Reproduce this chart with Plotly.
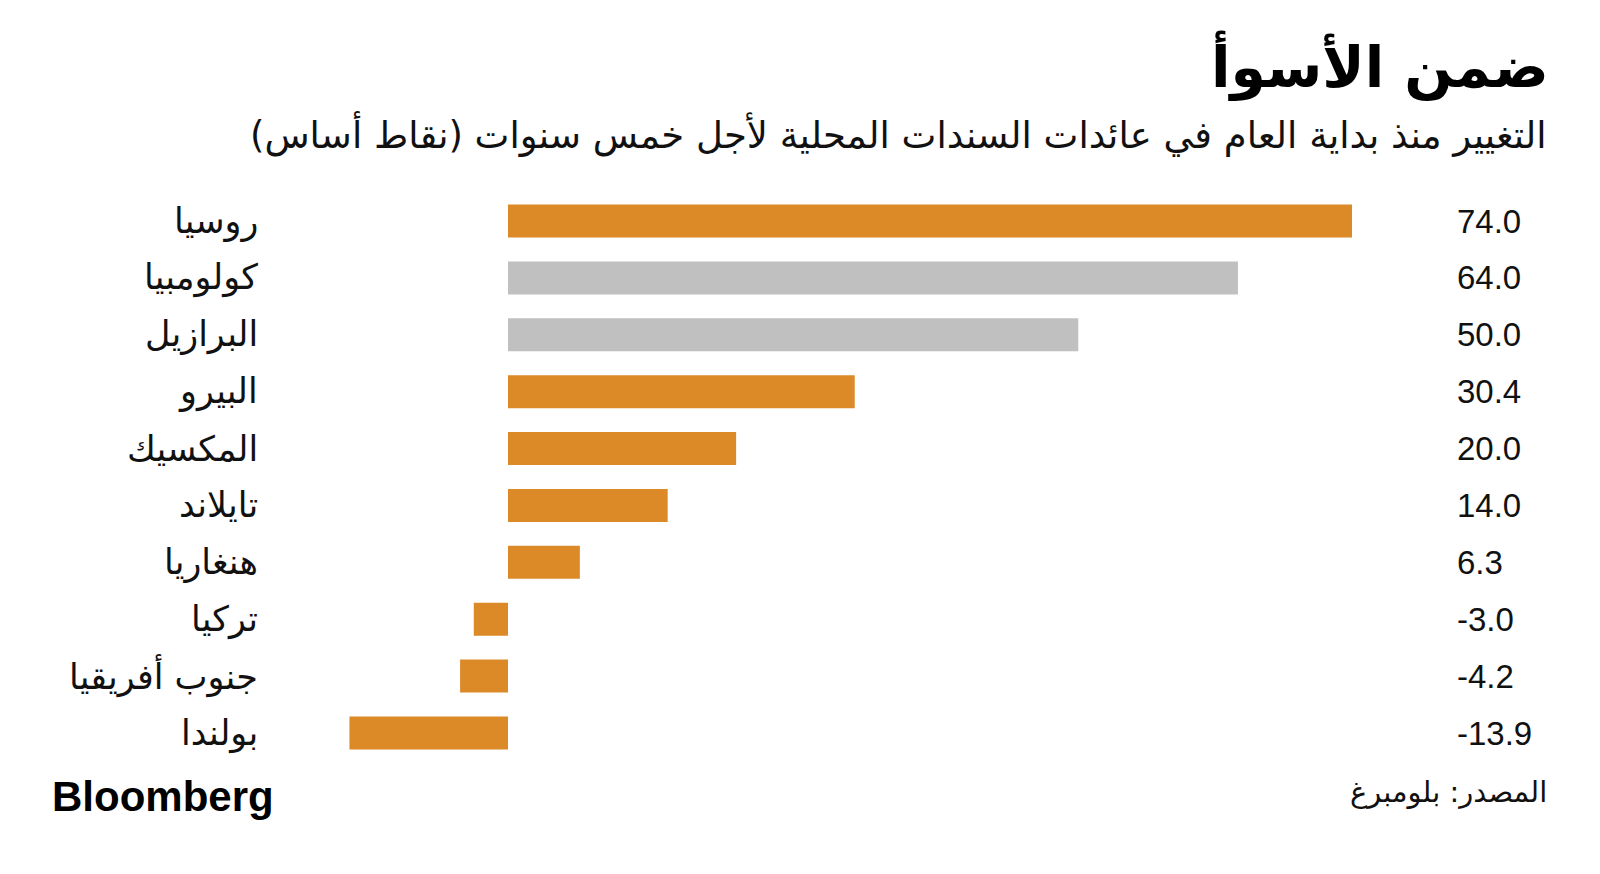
import plotly.graph_objects as go

countries = ["روسيا", "كولومبيا", "البرازيل", "البيرو", "المكسيك", "تايلاند", "هنغاريا", "تركيا", "جنوب أفريقيا", "بولندا"]
values = [74.0, 64.0, 50.0, 30.4, 20.0, 14.0, 6.3, -3.0, -4.2, -13.9]
highlight = [True, False, False, True, True, True, True, True, True, True]

ORANGE = "#DB8A27"
GRAY = "#C0C0C0"
colors = [ORANGE if h else GRAY for h in highlight]

W, H = 1600, 874
zero_px = 508
px_per_unit = (1352 - 508) / 74.0
x_range = [-zero_px / px_per_unit, (W - zero_px) / px_per_unit]
row0_px = 221
row_step = (733 - 221) / 9
y_range = [(H - row0_px) / row_step, -row0_px / row_step]

RLM = "\u200f"
AR_FONT = "DejaVu Sans, Noto Sans, sans-serif"

idx = list(range(len(countries)))

fig = go.Figure(go.Bar(
    x=values, y=idx, orientation="h",
    marker=dict(color=colors, line=dict(width=0)),
    width=0.58, hoverinfo="skip",
))

annotations = []
for i, (c, v) in enumerate(zip(countries, values)):
    annotations.append(dict(
        x=260 / W, xref="paper", y=i, yref="y", text=RLM + c + RLM,
        showarrow=False, xanchor="right", yanchor="middle",
        font=dict(family=AR_FONT, size=35, color="#111111"),
    ))
    annotations.append(dict(
        x=1455 / W, xref="paper", y=i, yref="y", text=f"{v:.1f}",
        showarrow=False, xanchor="left", yanchor="middle",
        font=dict(family="Liberation Sans, Arial, sans-serif", size=33, color="#111111"),
    ))

annotations += [
    dict(x=1551 / W, y=1 - 66 / H, xref="paper", yref="paper", xanchor="right", yanchor="middle",
         text=RLM + "<b>ضمن الأسوأ</b>" + RLM, showarrow=False,
         font=dict(family=AR_FONT, size=57, color="#000000")),
    dict(x=1549 / W, y=1 - 134 / H, xref="paper", yref="paper", xanchor="right", yanchor="middle",
         text=RLM + "التغيير منذ بداية العام في عائدات السندات المحلية لأجل خمس سنوات (نقاط أساس)" + RLM,
         showarrow=False, font=dict(family=AR_FONT, size=37, color="#111111")),
    dict(x=1549 / W, y=1 - 792 / H, xref="paper", yref="paper", xanchor="right", yanchor="middle",
         text=RLM + "المصدر: بلومبرغ" + RLM, showarrow=False,
         font=dict(family=AR_FONT, size=29, color="#111111")),
    dict(x=50 / W, y=1 - 796 / H, xref="paper", yref="paper", xanchor="left", yanchor="middle",
         text="<b>Bloomberg</b>", showarrow=False,
         font=dict(family="Liberation Sans, Arial, sans-serif", size=42, color="#000000")),
]

fig.update_layout(
    width=W, height=H,
    margin=dict(l=0, r=0, t=0, b=0),
    paper_bgcolor="white", plot_bgcolor="white",
    showlegend=False,
    xaxis=dict(range=x_range, visible=False, fixedrange=True),
    yaxis=dict(range=y_range, visible=False, fixedrange=True),
    annotations=annotations,
)

fig.write_html("out.html")
